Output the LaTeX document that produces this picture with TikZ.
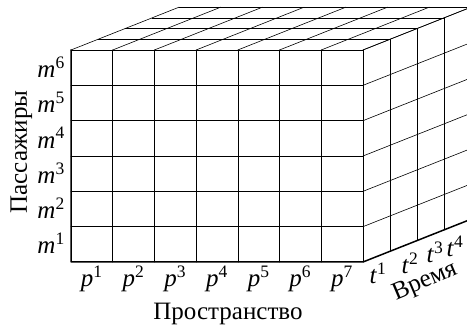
\documentclass[tikz,border=0pt]{standalone}
\usepackage{fontspec}
\setmainfont{Liberation Serif}
\usetikzlibrary{calc}

\begin{document}
\begin{tikzpicture}[x=1pt, y=1pt, line cap=round, line join=round]

% ---------- styles (safe names) ----------
\tikzset{
  gridLine/.style ={draw, line width=0.6pt},
  axisLine/.style ={draw, line width=1.5pt},
  axisText/.style ={font=\fontsize{25}{29}\selectfont, inner sep=0pt}
}

% ---------- frame (right side is cut off) ----------
\useasboundingbox (0,0) rectangle (467,326);
\clip (0,0) rectangle (467,326);

% Cell sizes and depth step
\def\cellW{41.7}
\def\cellH{35.33}
\def\dX{27}
\def\dY{10.7}

% Front face corners
\coordinate (frontSW) at (71,64);
\coordinate (frontNW) at (71,276);
\coordinate (frontSE) at (363,64);
\coordinate (frontNE) at (363,276);

% Front face grid
\foreach \i in {1,...,7}
  \draw[gridLine] ($(frontSW)+(\i*\cellW,0)$) -- ($(frontNW)+(\i*\cellW,0)$);
\foreach \j in {1,...,6}
  \draw[gridLine] ($(frontSW)+(0,\j*\cellH)$) -- ($(frontSE)+(0,\j*\cellH)$);

% Top face (space x time)
\foreach \i in {0,...,7}
  \draw[gridLine] ($(frontNW)+(\i*\cellW,0)$) -- ++(4*\dX,4*\dY);
\foreach \k in {1,...,4}
  \draw[gridLine] ($(frontNW)+(\k*\dX,\k*\dY)$) -- ($(frontNE)+(\k*\dX,\k*\dY)$);

% Side face (passengers x time)
\foreach \j in {1,...,6}
  \draw[gridLine] ($(frontSE)+(0,\j*\cellH)$) -- ++(5*\dX,5*\dY);
\foreach \k in {1,...,4}
  \draw[gridLine] ($(frontSE)+(\k*\dX,\k*\dY)$) -- ($(frontNE)+(\k*\dX,\k*\dY)$);

% Axes (thick edges)
\draw[axisLine] (frontNW) -- (frontSW) -- (frontSE) -- ++(5*\dX,5*\dY);

% ---------- labels ----------
\foreach \j in {1,...,6}
  \node[axisText, anchor=base east] (mLbl\j) at (65,{64+(\j-1)*\cellH+8})
    {\textit{m}\textsuperscript{\j}};
\foreach \i in {1,...,7}
  \node[axisText, anchor=base] (pLbl\i) at ({71+(\i-0.5)*\cellW},39)
    {\textit{p}\textsuperscript{\i}};
\foreach \k/\tx/\ty in {1/378/53, 2/410/62.5, 3/435/73.5, 4/455/79.5}
  \node[axisText] (tLbl\k) at (\tx,\ty) {\textit{t}\textsuperscript{\k}};

\node[axisText, anchor=base] (spaceLbl) at (228,6) {Пространство};
\node[axisText, anchor=base, rotate=90] (paxLbl) at (27,174) {Пассажиры};
\node[axisText, rotate=23] (timeLbl) at (425,44) {Время};

\end{tikzpicture}
\end{document}
